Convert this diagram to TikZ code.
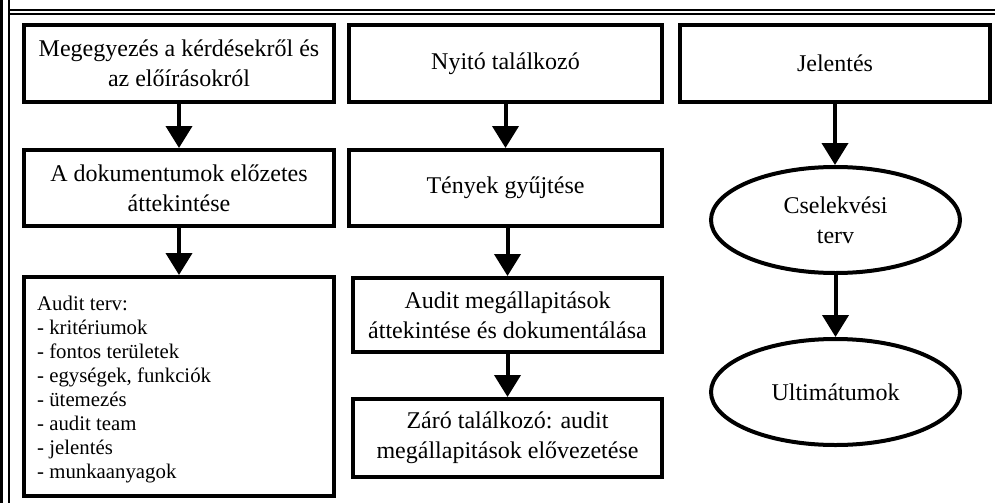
\documentclass[tikz,border=0pt]{standalone}
\usepackage{fontspec}
\setmainfont{Liberation Serif}
\usetikzlibrary{arrows.meta,shapes.geometric}

\begin{document}
\begin{tikzpicture}[x=1pt,y=-1pt,
  box/.style={draw,line width=4pt,rectangle,inner sep=0pt,align=center,
    font=\fontsize{24}{30}\selectfont},
  oval/.style={draw,line width=4pt,ellipse,inner sep=0pt,align=center,
    minimum width=249pt,minimum height=106pt,
    font=\fontsize{24}{30}\selectfont},
  listtext/.style={inner sep=0pt,align=left,
    font=\fontsize{20.8}{24}\selectfont},
  arr/.style={line width=4pt,-{Triangle[width=26pt,length=22pt]}},
  frame/.style={line width=2pt}]

\useasboundingbox (0,0) rectangle (995,503);

% page frame: double rule on the left and along the top
\draw[line width=2.5pt] (1.25,0) -- (1.25,503);
\draw[frame] (8.5,0) -- (8.5,503);
\draw[frame] (8.5,10) -- (995,10);
\draw[frame] (8.5,14.5) -- (995,14.5);

% left column: preparation
\node[box,minimum width=310pt,minimum height=77pt] (agree) at (179,63.5)
  {Megegyezés a kérdésekről és\\az előírásokról};
\node[box,minimum width=310pt,minimum height=76pt] (review) at (179,188)
  {A dokumentumok előzetes\\áttekintése};
\node[box,minimum width=310pt,minimum height=219pt] (plan) at (179,386.5) {};
\node[listtext,anchor=west] (plantext) at (37,390)
  {Audit terv:\\- kritériumok\\- fontos területek\\- egységek, funkciók\\- ütemezés\\- audit team\\- jelentés\\- munkaanyagok};

% middle column: on-site audit
\node[box,minimum width=313pt,minimum height=77pt] (open) at (505.5,63.5)
  {Nyitó találkozó};
\node[box,minimum width=313pt,minimum height=76pt] (facts) at (505.5,188)
  {Tények gyűjtése};
\node[box,minimum width=309pt,minimum height=74pt] (findings) at (507.5,315)
  {Audit megállapitások\\áttekintése és dokumentálása};
\node[box,minimum width=309pt,minimum height=78pt] (close) at (507.5,438)
  {Záró találkozó: audit\\megállapitások elővezetése};

% right column: follow-up
\node[box,minimum width=310pt,minimum height=77pt] (report) at (835,63.5)
  {Jelentés};
\node[oval] (action) at (835.5,220) {Cselekvési\\terv};
\node[oval] (ultimatum) at (835.5,392) {Ultimátumok};

% flow arrows
\draw[arr] (agree.south) -- (review.north);
\draw[arr] (review.south) -- (plan.north);
\draw[arr] (open.south) -- (facts.north);
\draw[arr] (facts.south -| findings.south) -- (findings.north);
\draw[arr] (findings.south) -- (close.north);
\draw[arr] (report.south) -- (report.south |- action.north);
\draw[arr] (action.south) -- (ultimatum.north);
\end{tikzpicture}
\end{document}
